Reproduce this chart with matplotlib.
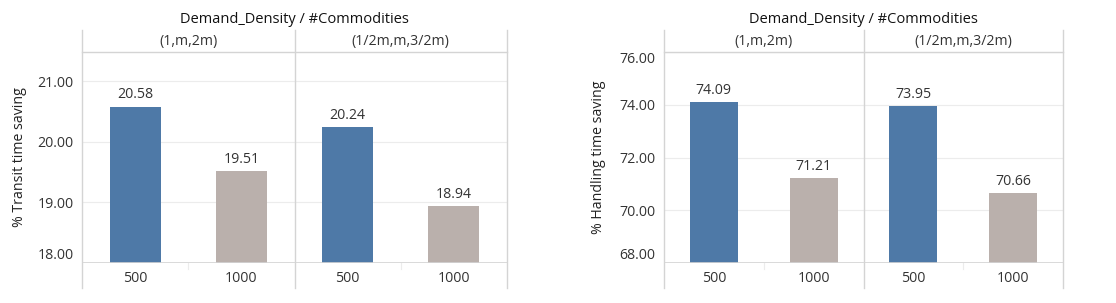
import matplotlib.pyplot as plt
import numpy as np

plt.rcParams['font.family'] = ['Open Sans', 'DejaVu Sans']

groups = ["(1,m,2m)", "(1/2m,m,3/2m)"]
commodities = ["500", "1000"]
transit = [20.58, 19.51, 20.24, 18.94]
handling = [74.09, 71.21, 73.95, 70.66]
transit_ticks = [18, 19, 20, 21]
handling_ticks = [68, 70, 72, 74, 76]

blue = "#4e79a7"
grey = "#bab0ac"
line_col = "#d4d4d4"
txt = "#333333"
fs = 10.2

fig = plt.figure(figsize=(11.16, 3.03), dpi=100)
W, H = 1116, 303

def panel(x0, x1, vals, ticks, ylim, ylabel, ylab_x):
    ax = fig.add_axes([x0 / W, (H - 263) / H, (x1 - x0) / W, 211 / H])
    xs = np.arange(4)
    cols = [blue, grey, blue, grey]
    ax.bar(xs, [v - ylim[0] for v in vals], bottom=ylim[0], width=0.48,
           color=cols, zorder=3)
    for x, v in zip(xs, vals):
        ax.annotate(f"{v:.2f}", (x, v), xytext=(0, 3), textcoords="offset points",
                    ha="center", va="bottom", fontsize=fs, color=txt)
    ax.set_xlim(-0.5, 3.5)
    ax.set_ylim(*ylim)
    ax.set_yticks(ticks)
    ax.set_yticklabels([f"{t:.2f}" for t in ticks], fontsize=fs, color=txt)
    for lab, t in zip(ax.get_yticklabels(), ticks):
        if t == ylim[0]:
            lab.set_va("bottom")
        elif t >= ylim[1] - 0.01:
            lab.set_va("top")
    ax.tick_params(axis="y", length=0, pad=6)
    ax.set_xticks(xs)
    ax.set_xticklabels(commodities * 2, fontsize=fs, color=txt)
    ax.tick_params(axis="x", length=0, pad=6)
    ax.grid(axis="y", color="#ececec", linewidth=0.8, zorder=0)
    for s in ax.spines.values():
        s.set_visible(False)
    # bottom axis line
    ax.axhline(ylim[0], color=line_col, linewidth=1.2, zorder=4)
    # header separator
    ax.plot([0, 1], [1, 1], transform=ax.transAxes, color=line_col,
            linewidth=1, clip_on=False)
    # vertical pane lines
    for xa in [0, 0.5, 1]:
        ax.plot([xa, xa], [-0.118, 1.104], transform=ax.transAxes,
                color=line_col, linewidth=1, clip_on=False)
    # small ticks between categories
    for xa in [0.25, 0.75]:
        ax.plot([xa, xa], [0, -0.03], transform=ax.transAxes,
                color="#ececec", linewidth=0.8, clip_on=False)
    ax.text(0.5, 1.156, "Demand_Density / #Commodities", transform=ax.transAxes,
            ha="center", va="center", fontsize=10.5, color="#111111")
    for i, g in enumerate(groups):
        ax.text(0.25 + 0.5 * i, 1.052, g, transform=ax.transAxes,
                ha="center", va="center", fontsize=fs, color=txt)
    fig.text(ylab_x / W, (H - 157) / H, ylabel, rotation=90, ha="center",
             va="center", fontsize=fs, color="#222222")
    return ax

panel(82, 507, transit, transit_ticks, (18, 21.48), "% Transit time saving", 20)
panel(664, 1063, handling, handling_ticks, (68, 76), "% Handling time saving", 599)

fig.savefig("out.png", dpi=100)
